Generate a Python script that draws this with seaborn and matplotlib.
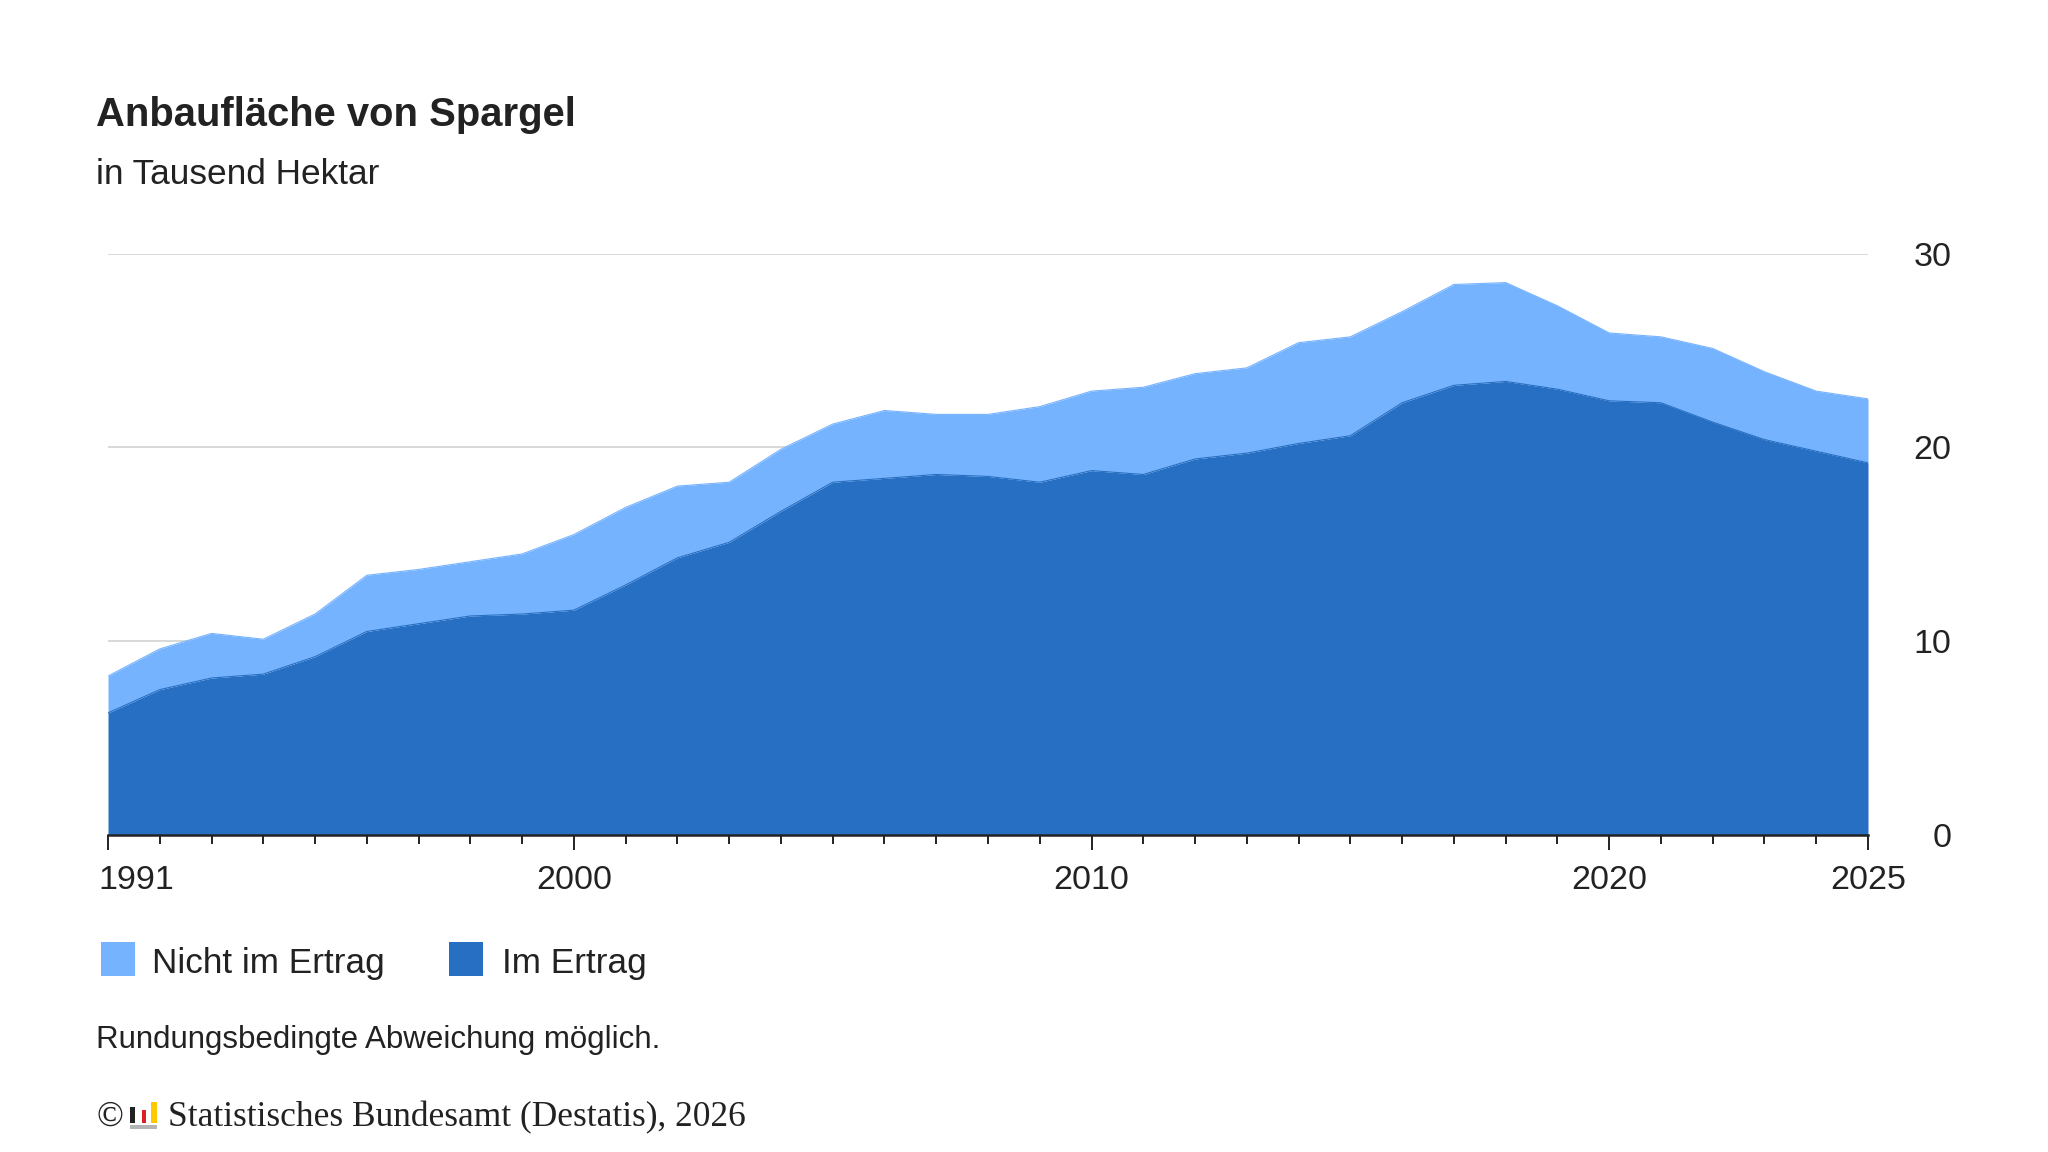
import numpy as np
import pandas as pd
import matplotlib.pyplot as plt
import seaborn as sns
from matplotlib.patches import Rectangle
from matplotlib.transforms import ScaledTranslation

# Anbaufläche Spargel, in Tausend Hektar
years = list(range(1991, 2026))
im_ertrag = [6.3, 7.5, 8.1, 8.3, 9.2, 10.5, 10.9, 11.3, 11.4, 11.6,
             12.9, 14.3, 15.1, 16.7, 18.2, 18.4, 18.6, 18.5, 18.2, 18.8,
             18.6, 19.4, 19.7, 20.2, 20.6, 22.3, 23.2, 23.4, 23.0, 22.4,
             22.3, 21.3, 20.4, 19.8, 19.2]
nicht_im_ertrag = [1.9, 2.1, 2.3, 1.8, 2.2, 2.9, 2.8, 2.8, 3.1, 3.9,
                   4.0, 3.7, 3.1, 3.2, 3.0, 3.5, 3.1, 3.2, 3.9, 4.1,
                   4.5, 4.4, 4.4, 5.2, 5.1, 4.7, 5.2, 5.1, 4.3, 3.5,
                   3.4, 3.8, 3.5, 3.1, 3.3]
series_names = ["Nicht im Ertrag", "Im Ertrag"]
labeled_years = [1991, 2000, 2010, 2020, 2025]
y_ticks = [0, 10, 20, 30]

DARK = "#276FC2"
LIGHT = "#76B3FF"
TEXT = "#222222"
W, H = 2048, 1152

sns.set_theme(style="white")
plt.rcParams["font.family"] = ["Liberation Sans", "DejaVu Sans"]

df = pd.DataFrame({"year": years, "im": im_ertrag, "nicht": nicht_im_ertrag})
df["total"] = df["im"] + df["nicht"]

fig = plt.figure(figsize=(W / 100, H / 100), dpi=100)
fig.patch.set_facecolor("white")


def fx(x):
    return x / W


def fy(y):
    return 1 - y / H


ax = fig.add_axes([fx(108), fy(835), fx(1868) - fx(108), fy(253.5) - fy(835)])
ax.set_facecolor("white")

ax.fill_between(df["year"], 0, df["im"], color=DARK, lw=0, zorder=2)
ax.fill_between(df["year"], df["im"], df["total"], color=LIGHT, lw=0, zorder=2)
sns.lineplot(data=df, x="year", y="total", color=LIGHT, lw=0.8, ax=ax, zorder=3)
sns.lineplot(data=df, x="year", y="im", color=DARK, lw=0.8, ax=ax, zorder=3)

ax.set_xlim(years[0], years[-1])
ax.set_ylim(0, 30)
ax.set_xlabel("")
ax.set_ylabel("")

ax.set_yticks(y_ticks)
ax.yaxis.tick_right()
ax.grid(axis="y", color="#d2d2d2", lw=1.2, zorder=0)
ax.set_axisbelow(True)

ax.set_xticks(labeled_years)
ax.set_xticklabels([str(y) for y in labeled_years])
ax.set_xticks(years, minor=True)

for s in ["top", "left", "right"]:
    ax.spines[s].set_visible(False)
ax.spines["bottom"].set_color(TEXT)
ax.spines["bottom"].set_linewidth(1.8)
ax.spines["bottom"].set_zorder(4)

ax.tick_params(axis="x", which="major", direction="out", length=11, width=1.4,
               color=TEXT, labelsize=24.5, labelcolor=TEXT, pad=10.5, bottom=True)
ax.tick_params(axis="x", which="minor", direction="out", length=6.5, width=1.4,
               color=TEXT, bottom=True)
ax.tick_params(axis="y", which="both", length=0, labelsize=24.5, labelcolor=TEXT,
               pad=60, right=False, left=False, labelright=True, labelleft=False)
for lab in ax.get_yticklabels():
    lab.set_horizontalalignment("right")

first = ax.get_xticklabels()[0]
first.set_horizontalalignment("left")
first.set_transform(first.get_transform() + ScaledTranslation(-0.10, 0, fig.dpi_scale_trans))

# Titel
fig.text(fx(96), fy(126), "Anbaufläche von Spargel", fontsize=28.8, fontweight="bold",
         color=TEXT, va="baseline", ha="left")
fig.text(fx(96), fy(184.5), "in Tausend Hektar", fontsize=25.4, color=TEXT,
         va="baseline", ha="left")

# Legende
legend_items = [(100.5, 152.5, LIGHT, series_names[0]), (449, 501.5, DARK, series_names[1])]
for bx, tx, col, name in legend_items:
    fig.add_artist(Rectangle((fx(bx), fy(976)), fx(34), 34 / H, transform=fig.transFigure,
                             facecolor=col, edgecolor="none"))
    fig.text(fx(tx), fy(973.5), name, fontsize=25.3, color=TEXT, va="baseline", ha="left")

fig.text(fx(96), fy(1048), "Rundungsbedingte Abweichung möglich.", fontsize=22.5,
         color=TEXT, va="baseline", ha="left")

# Quelle mit Logo
serif = ["Liberation Serif", "DejaVu Serif"]
fig.text(fx(96), fy(1126), "©", fontsize=25.5, family=serif, color=TEXT,
         va="baseline", ha="left")
logo = [(130.4, 1106.9, 5.0, 16.3, "#222222"),
        (141.6, 1110.3, 4.6, 12.9, "#dd1f26"),
        (151.4, 1102.4, 5.4, 20.8, "#ffc800"),
        (130.4, 1124.6, 26.4, 4.4, "#b4b4b4")]
for lx, ly, lw_, lh, col in logo:
    fig.add_artist(Rectangle((fx(lx), fy(ly + lh)), fx(lw_), lh / H,
                             transform=fig.transFigure, facecolor=col, edgecolor="none"))
fig.text(fx(168.5), fy(1126), "Statistisches Bundesamt (Destatis), 2026", fontsize=25.5,
         family=serif, color=TEXT, va="baseline", ha="left")

fig.savefig("out.png", dpi=100, facecolor="white")
